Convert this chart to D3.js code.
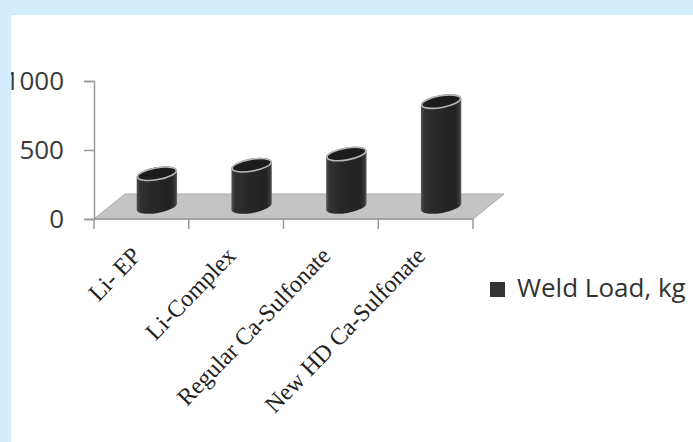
<!DOCTYPE html>
<html>
<head>
<meta charset="utf-8">
<script src="https://cdn.jsdelivr.net/npm/d3@7"></script>
<style>
  body { margin: 0; background: #fff; }
  svg { display: block; }
</style>
</head>
<body>
<svg id="chart" width="693" height="442"></svg>
<script>
// data
var categories = ["Li- EP", "Li-Complex", "Regular Ca-Sulfonate", "New HD Ca-Sulfonate"];
var weldLoad = [250, 315, 400, 800];
var yTicks = [0, 500, 1000];
var seriesName = "Weld Load, kg";

var svg = d3.select("#chart");
var width = 693, height = 442;

// plot box (front plane)
var plotLeft = 94, plotRight = 473, plotTop = 81, plotBottom = 219;
// 3d depth offset of the floor
var depthX = 31, depthY = -25;
// perspective shrink at the middle of the depth
var depthScale = 0.95;

var x = d3.scaleBand().domain(categories).range([plotLeft, plotRight]);
var y = d3.scaleLinear().domain([0, 1000]).range([plotBottom, plotTop]);

svg.append("rect").attr("width", width).attr("height", height).attr("fill", "#fff");

var defs = svg.append("defs");
var grad = defs.append("linearGradient").attr("id", "cylGrad")
    .attr("x1", "0%").attr("x2", "100%").attr("y1", "0%").attr("y2", "0%");
[["0%", "#555"], ["8%", "#323232"], ["40%", "#272727"], ["85%", "#222"], ["95%", "#363636"], ["100%", "#666"]]
  .forEach(function(s) { grad.append("stop").attr("offset", s[0]).attr("stop-color", s[1]); });

// floor
var floorPts = [[plotLeft, plotBottom], [plotRight, plotBottom],
  [plotRight + depthX, plotBottom + depthY], [plotLeft + depthX, plotBottom + depthY]];
svg.append("polygon")
    .attr("points", floorPts.map(function(p) { return p.join(","); }).join(" "))
    .attr("fill", "#c4c4c4")
    .attr("stroke", "#a9a9a9")
    .attr("stroke-width", 1);

// y axis
var yAxis = d3.axisLeft(y).tickValues(yTicks).tickFormat(d3.format("d"))
    .tickSize(10).tickPadding(20);
var gy = svg.append("g").attr("transform", "translate(" + plotLeft + ",0)").call(yAxis);
gy.select(".domain").attr("stroke", "#999").attr("stroke-width", 1.5);
gy.selectAll(".tick line").attr("stroke", "#999").attr("stroke-width", 1.5);
gy.selectAll(".tick text")
    .attr("fill", "#3a3a3a")
    .style("font-family", "'Open Sans', sans-serif")
    .style("font-size", "26px");

// x axis (ticks on band edges)
svg.append("line").attr("x1", plotLeft).attr("x2", plotRight).attr("y1", plotBottom).attr("y2", plotBottom)
    .attr("stroke", "#999").attr("stroke-width", 1.5);
var edges = categories.map(function(c) { return x(c); }).concat([plotRight]);
svg.selectAll(".xtick").data(edges).enter().append("line")
    .attr("class", "xtick")
    .attr("x1", function(d) { return d; }).attr("x2", function(d) { return d; })
    .attr("y1", plotBottom).attr("y2", plotBottom + 10)
    .attr("stroke", "#999").attr("stroke-width", 1.5);

// cylinders
var rx = 20.5, ry = 6.5, tilt = -10;
var rad = tilt * Math.PI / 180;
var ex = rx * Math.cos(rad), ey = rx * Math.sin(rad);

var cyl = svg.selectAll(".cyl").data(categories).enter().append("g").attr("class", "cyl");

cyl.each(function(c, i) {
  var g = d3.select(this);
  var cx = x(c) + x.bandwidth() / 2 + depthX / 2;
  var base = plotBottom + depthY / 2;
  var topY = base - (y(0) - y(weldLoad[i])) * depthScale;
  var p = "M" + (cx - ex) + "," + (topY - ey)
    + "L" + (cx - ex) + "," + (base - ey)
    + "A" + rx + "," + ry + " " + tilt + " 0 0 " + (cx + ex) + "," + (base + ey)
    + "L" + (cx + ex) + "," + (topY + ey)
    + "A" + rx + "," + ry + " " + tilt + " 0 0 " + (cx - ex) + "," + (topY - ey) + "Z";
  g.append("path").attr("d", p).attr("fill", "url(#cylGrad)");
  g.append("ellipse")
      .attr("cx", 0).attr("cy", 0).attr("rx", rx - 0.8).attr("ry", ry - 0.6)
      .attr("transform", "translate(" + cx + "," + topY + ") rotate(" + tilt + ")")
      .attr("fill", "#1c1c1c")
      .attr("stroke", "#b8b8b8")
      .attr("stroke-width", 1.6);
});

// category labels
svg.selectAll(".xlabel").data(categories).enter().append("text")
    .attr("class", "xlabel")
    .attr("transform", function(d) {
      return "translate(" + (x(d) + x.bandwidth() / 2 + 1) + ",257) rotate(-46)";
    })
    .attr("text-anchor", "end")
    .attr("fill", "#222")
    .style("font-family", "'Liberation Serif', 'Times New Roman', serif")
    .style("font-size", "24px")
    .text(function(d) { return d; });

// legend
var legend = svg.append("g").attr("transform", "translate(490,282)");
legend.append("rect").attr("width", 15).attr("height", 15).attr("fill", "#333");
legend.append("text")
    .attr("x", 27).attr("y", 15)
    .attr("fill", "#333")
    .style("font-family", "'Open Sans', sans-serif")
    .style("font-size", "26px")
    .text(seriesName);

// light blue frame
svg.append("rect").attr("x", 0).attr("y", 0).attr("width", width).attr("height", 15).attr("fill", "#d3eefa");
svg.append("rect").attr("x", 0).attr("y", 0).attr("width", 11).attr("height", height).attr("fill", "#d3eefa");
</script>
</body>
</html>
